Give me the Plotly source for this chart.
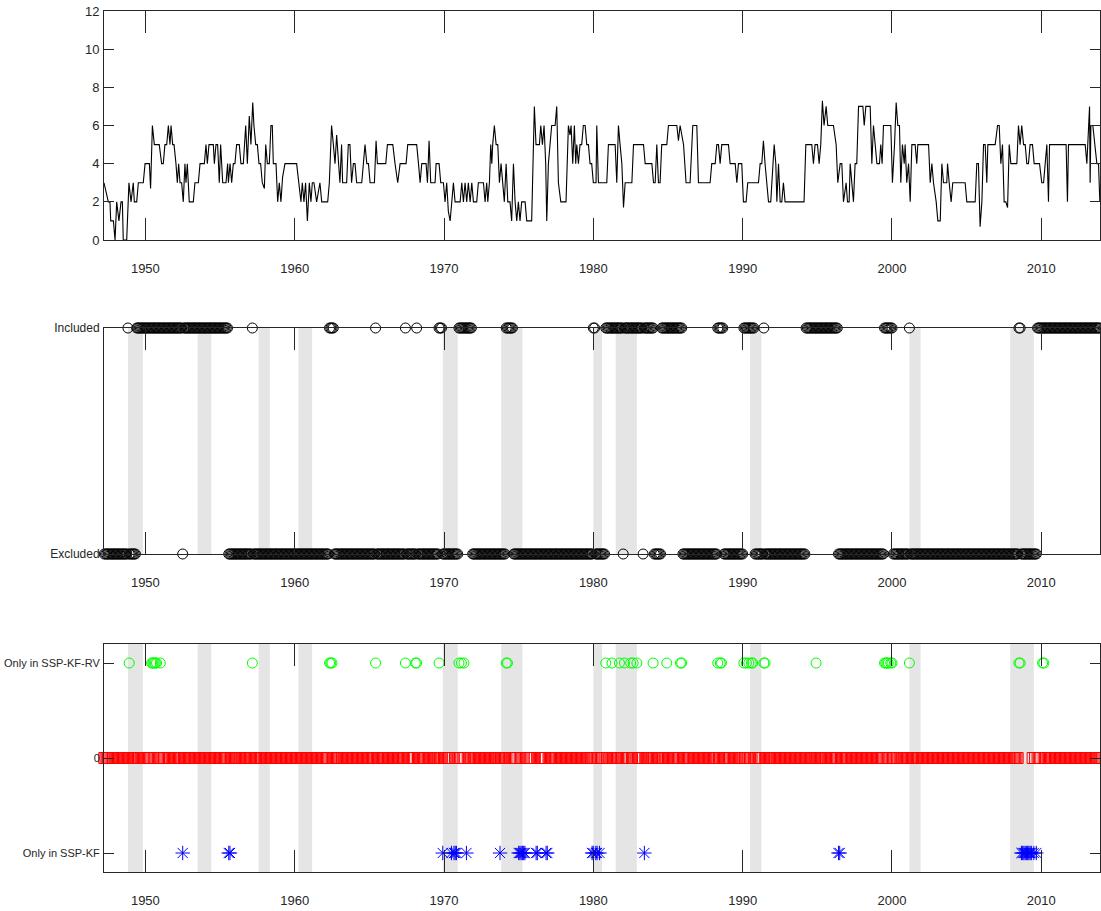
import numpy as np
import plotly.graph_objects as go

# ---------------- data ----------------
START_YEAR = 1947.25          # first month (Apr 1947)
N_MONTHS = 801                # monthly through Dec 2013

# NBER recessions (start, end) in decimal years
REC_START = [1948.833, 1953.5, 1957.583, 1960.25, 1969.917, 1973.833, 1980.0, 1981.5, 1990.5, 2001.167, 2007.917]
REC_END = [1949.833, 1954.417, 1958.333, 1961.167, 1970.917, 1975.25, 1980.583, 1982.917, 1991.25, 2001.917, 2009.5]

# top panel: number of selected variables (vertices of the monthly line)
TOP_YEARS = [
    1947.23, 1947.52, 1947.63, 1947.68, 1947.86, 1947.97, 1948.08, 1948.23, 1948.37, 1948.46, 1948.52, 1948.75,
    1948.90, 1949.04, 1949.19, 1949.26, 1949.42, 1949.53, 1949.86, 1949.98, 1950.27, 1950.35, 1950.47, 1950.60,
    1950.93, 1951.09, 1951.20, 1951.31, 1951.43, 1951.54, 1951.65, 1951.72, 1951.83, 1951.92, 1952.05, 1952.14,
    1952.23, 1952.32, 1952.43, 1952.54, 1952.65, 1952.72, 1952.81, 1952.94, 1953.21, 1953.32, 1953.55, 1953.66,
    1953.95, 1954.06, 1954.15, 1954.26, 1954.55, 1954.62, 1954.73, 1954.84, 1954.95, 1955.04, 1955.18, 1955.40,
    1955.51, 1955.56, 1955.67, 1955.78, 1955.89, 1956.00, 1956.11, 1956.29, 1956.40, 1956.56, 1956.72, 1956.83,
    1956.96, 1957.07, 1957.19, 1957.27, 1957.39, 1957.50, 1957.61, 1957.72, 1957.83, 1957.97, 1958.06, 1958.17,
    1958.30, 1958.41, 1958.50, 1958.57, 1958.75, 1958.86, 1958.97, 1959.08, 1959.19, 1959.35, 1960.13, 1960.29,
    1960.42, 1960.51, 1960.62, 1960.73, 1960.85, 1960.98, 1961.09, 1961.18, 1961.29, 1961.47, 1961.69, 1961.81,
    1962.21, 1962.32, 1962.47, 1962.59, 1962.70, 1962.81, 1962.92, 1963.03, 1963.14, 1963.21, 1963.48, 1963.59,
    1963.70, 1963.81, 1963.93, 1964.04, 1964.15, 1964.37,
    1964.49, 1964.71, 1964.83, 1964.94, 1965.05, 1965.34, 1965.45, 1965.54, 1966.10, 1966.21, 1966.57, 1966.72,
    1966.90, 1967.06, 1967.46, 1967.57, 1968.17, 1968.29, 1968.40, 1968.51, 1968.80, 1968.89, 1969.00, 1969.11,
    1969.40, 1969.47, 1969.67, 1969.78, 1969.96, 1970.07, 1970.18, 1970.29, 1970.41, 1970.52, 1970.63, 1970.74,
    1971.08, 1971.19, 1971.30, 1971.41, 1971.52, 1971.63, 1971.75, 1971.86, 1971.97, 1972.19, 1972.30, 1972.64,
    1972.75, 1972.86, 1972.93, 1973.04, 1973.13, 1973.20, 1973.26, 1973.37, 1973.49, 1973.60, 1973.71, 1973.82,
    1973.93, 1974.04, 1974.16, 1974.27, 1974.42, 1974.53, 1974.65, 1974.76, 1974.87, 1974.98, 1975.09, 1975.20,
    1975.43, 1975.54, 1975.87, 1975.94, 1976.05, 1976.16, 1976.39, 1976.48, 1976.59, 1976.70, 1976.81, 1976.88,
    1976.99, 1977.10, 1977.21, 1977.44, 1977.55, 1977.66, 1977.82, 1978.17, 1978.26, 1978.33, 1978.44, 1978.51,
    1978.62, 1978.73, 1978.82, 1978.89, 1979.00, 1979.11, 1979.22, 1979.33, 1979.45, 1979.56, 1979.67, 1979.78,
    1979.89, 1980.00, 1980.18, 1980.23, 1980.34, 1980.90, 1981.01, 1981.12,
    1981.46, 1981.57, 1981.68, 1981.79, 1981.91, 1982.02, 1982.13, 1982.58, 1982.69, 1983.36, 1983.47, 1983.92,
    1984.03, 1984.14, 1984.25, 1984.36, 1984.47, 1984.58, 1984.92, 1985.03, 1985.59, 1985.70, 1985.81, 1986.04,
    1986.21, 1986.48, 1986.66, 1986.93, 1987.04, 1987.82, 1987.93, 1988.16, 1988.27, 1988.38, 1988.49, 1988.60,
    1989.05, 1989.16, 1989.50, 1989.61, 1989.72, 1989.94, 1990.05, 1990.23, 1990.34, 1991.06, 1991.17, 1991.28,
    1991.39, 1991.50, 1991.62, 1991.73, 1991.88, 1992.00, 1992.11, 1992.22, 1992.29, 1992.40, 1992.51, 1992.62,
    1992.73, 1992.84, 1994.11, 1994.23, 1994.63, 1994.74, 1994.85, 1995.01, 1995.12, 1995.23, 1995.34, 1995.45,
    1995.59, 1995.70, 1996.08, 1996.26, 1996.37, 1996.53, 1996.64, 1996.75, 1996.93, 1997.02, 1997.13, 1997.20,
    1997.31, 1997.42, 1997.53, 1997.64,
    1997.76, 1998.05, 1998.14, 1998.25, 1998.54, 1998.65, 1998.76, 1998.87, 1998.99, 1999.16, 1999.25, 1999.34,
    1999.43, 1999.92, 2000.03, 2000.17, 2000.28, 2000.39, 2000.50, 2000.59, 2000.70, 2000.82, 2000.88, 2000.99,
    2001.11, 2001.22, 2001.28, 2001.33, 2001.55, 2001.66, 2001.73, 2002.45, 2002.56, 2002.67, 2002.78, 2002.96,
    2003.07, 2003.23, 2003.34, 2003.45, 2003.67, 2003.72, 2003.83, 2003.96, 2004.07, 2004.90, 2005.01, 2005.57,
    2005.68, 2005.79, 2005.90, 2006.02, 2006.13, 2006.24, 2006.35, 2006.42, 2006.91, 2007.07, 2007.18, 2007.29,
    2007.40, 2007.51, 2007.62, 2007.74, 2007.85, 2007.96, 2008.36, 2008.47, 2008.58, 2008.69, 2008.81, 2008.92,
    2009.03, 2009.14, 2009.25, 2009.41, 2009.52, 2009.88, 2010.03, 2010.15, 2010.26, 2010.37, 2010.48, 2010.55,
    2011.66, 2011.75, 2011.82, 2012.94, 2013.05, 2013.16, 2013.23, 2013.27, 2013.32, 2013.45, 2013.61, 2013.72,
    2013.83, 2013.92,
]
TOP_VALUES = [
    3, 2, 2, 1, 1, 0, 2, 1, 2, 2, 0, 0,
    3, 2, 3, 2, 2, 3, 3, 4, 4, 2.7, 6, 5,
    5, 4, 4, 5, 5, 6, 5, 6, 5, 5, 4, 3,
    4, 3, 3, 2, 4, 3, 4, 2, 2, 3, 3, 4,
    4, 5, 4, 5, 5, 4, 5, 5, 3, 5, 3, 3,
    4, 3, 4, 3, 4, 4, 5, 5, 4, 4, 6, 4,
    6.5, 5, 7.2, 6, 5, 5, 4, 4, 3, 2.7, 5, 4,
    4, 6, 6, 4, 4, 2, 3, 2, 3.3, 4, 4, 3,
    2, 3, 2, 3, 1, 3, 2, 3, 3, 2, 3, 2,
    2, 3, 6, 5, 4, 5.5, 4, 3, 5, 3, 3, 5,
    5, 3, 4, 4, 3, 3,
    3, 5, 4, 4, 3, 3, 5.2, 4, 4, 5, 5, 4,
    3, 4, 4, 5, 5, 4, 3, 4, 4, 3, 5.2, 3,
    3, 4, 4, 3, 3, 2, 3, 1.5, 1, 2, 3, 2,
    2, 3, 2, 3, 2, 3, 2, 3, 2, 2, 3, 3,
    2, 3, 2, 3, 5, 4, 5, 6, 5, 5, 3, 4,
    3, 2, 4, 2, 2, 1, 4, 2, 1, 2, 1, 2,
    2, 1, 1, 3, 7, 5, 5, 6, 5, 6, 4, 1,
    4, 5, 6, 6, 7, 3, 2, 2, 4, 6, 5.5, 6,
    4, 6, 4, 5, 4, 5, 5, 6, 6, 5, 5, 4,
    4, 3, 3, 6, 3, 3, 5, 5,
    5, 3, 6, 5, 4, 1.7, 3, 3, 5, 5, 4, 4,
    3, 3, 5, 3, 3, 5, 5, 6, 6, 5.2, 6, 5,
    3, 3, 6, 6, 3, 3, 4, 4, 5, 5, 4, 5,
    5, 4, 4, 3, 4, 4, 2, 2, 3, 3, 4, 4,
    5.2, 4, 3, 2, 2, 4, 5, 4, 2, 4, 2, 2,
    3, 2, 2, 5, 5, 4, 5, 5, 4, 5, 7.3, 6,
    7, 6, 6, 5, 3, 4, 4, 2, 3, 2, 2, 4,
    3, 2, 4, 4,
    7, 7, 6, 7, 7, 4, 6, 5, 4, 4, 5, 4,
    6, 6, 3, 5, 7.2, 6, 6, 3, 5, 4, 5, 3,
    4, 2, 4, 5, 5, 4, 5, 5, 3, 4, 3, 2,
    1, 1, 4, 3, 3, 4, 3, 2, 3, 3, 2, 2,
    4, 4, 0.7, 2, 5, 5, 3, 5, 5, 6, 6, 4,
    5, 2, 2, 1.7, 5, 4, 4, 6, 5, 6, 5, 5,
    4, 4, 5, 5, 4, 4, 3, 3, 4, 5, 2, 5,
    5, 2, 5, 5, 4, 6, 7, 3, 6, 6, 5, 4,
    4, 2,
]

# middle panel: months included by SSP-KF-RV (inclusive intervals)
INC_START = [1948.833, 1949.417, 1952.583, 1957.167, 1962.333, 1965.417, 1967.417, 1968.167, 1969.667, 1971.0,
             1974.167, 1980.0, 1980.833, 1982.083, 1983.417, 1984.583, 1988.333, 1990.083, 1991.417, 1994.25,
             1999.5, 2001.167, 2008.5, 2009.75]
INC_END = [1948.833, 1952.417, 1955.5, 1957.167, 1962.583, 1965.417, 1967.417, 1968.167, 1969.833, 1971.833,
           1974.583, 1980.083, 1981.917, 1983.25, 1984.0, 1985.917, 1988.667, 1990.75, 1991.417, 1996.333,
           2000.0, 2001.167, 2008.583, 2013.917]

# bottom panel: months only selected by one of the two methods
ONLY_RV = [1948.917, 1950.417, 1950.5, 1950.583, 1950.667, 1950.75, 1951.0, 1957.167, 1962.333, 1962.417, 1962.5,
           1965.417, 1967.417, 1968.083, 1968.167, 1969.667, 1971.0, 1971.167, 1971.333, 1974.167, 1974.25,
           1980.833, 1981.25, 1981.75, 1982.083, 1982.5, 1982.667, 1982.917, 1984.0, 1984.917, 1985.833, 1985.917,
           1988.333, 1988.5, 1988.583, 1990.083, 1990.25, 1990.417, 1990.583, 1990.667, 1991.417, 1991.5,
           1994.917, 1999.5, 1999.583, 1999.667, 1999.75, 1999.917, 2000.0, 2001.167, 2008.5, 2008.583,
           2010.083, 2010.167]
ONLY_KF = [1952.5, 1955.583, 1955.667, 1969.917, 1970.5, 1970.667, 1970.75, 1970.833, 1971.5, 1973.75,
           1975.0, 1975.083, 1975.167, 1975.25, 1975.333, 1975.417, 1976.167, 1976.25, 1976.833, 1976.917,
           1979.917, 1980.0, 1980.167, 1980.25, 1980.417, 1983.417, 1996.417, 1996.5,
           2008.667, 2008.75, 2008.833, 2008.917, 2009.0, 2009.083, 2009.167, 2009.25, 2009.333, 2009.5, 2009.667]

X_TICKS = [1950, 1960, 1970, 1980, 1990, 2000, 2010]
TOP_TICKS = [0, 2, 4, 6, 8, 10, 12]
MID_TICKTEXT = ["Excluded", "Included"]
BOT_TICKTEXT = ["Only in SSP-KF", "0", "Only in SSP-KF-RV"]

# ---------------- derived ----------------
months = START_YEAR + np.arange(N_MONTHS) / 12.0


def midx(y):
    return int(round((y - START_YEAR) * 12))


included = np.zeros(N_MONTHS, dtype=int)
for s, e in zip(INC_START, INC_END):
    included[midx(s):midx(e) + 1] = 1

rv_idx = sorted(set(midx(y) for y in ONLY_RV))
kf_idx = sorted(set(midx(y) for y in ONLY_KF))
both_idx = [i for i in range(N_MONTHS) if i not in set(rv_idx) | set(kf_idx)]

# ---------------- figure ----------------
AX = "#262626"
FAMILY = "Liberation Sans, Arial, sans-serif"
XFONT = dict(family=FAMILY, size=13, color=AX)
NFONT = dict(family=FAMILY, size=13, color=AX)
MFONT = dict(family=FAMILY, size=12, color=AX)
TFONT = dict(family=FAMILY, size=11, color=AX)
XR = [1947.23, 2013.93]

fig = go.Figure()
fig.add_trace(go.Scatter(x=TOP_YEARS, y=TOP_VALUES, mode="lines", line=dict(color="black", width=1.1),
                         xaxis="x", yaxis="y", showlegend=False, hoverinfo="skip"))
fig.add_trace(go.Scatter(x=months, y=included, mode="markers", cliponaxis=False,
                         marker=dict(symbol="circle-open", size=10, color="black", line=dict(width=1)),
                         xaxis="x2", yaxis="y2", showlegend=False, hoverinfo="skip"))
fig.add_trace(go.Scatter(x=months[both_idx], y=np.zeros(len(both_idx)), mode="markers", cliponaxis=False,
                         marker=dict(symbol="square-open", size=11, color="#ff0000", line=dict(width=1)),
                         xaxis="x3", yaxis="y3", showlegend=False, hoverinfo="skip"))
fig.add_trace(go.Scatter(x=months[rv_idx], y=np.ones(len(rv_idx)), mode="markers", cliponaxis=False,
                         marker=dict(symbol="circle-open", size=10, color="#00ff00", line=dict(width=1)),
                         xaxis="x3", yaxis="y3", showlegend=False, hoverinfo="skip"))
fig.add_trace(go.Scatter(x=months[kf_idx], y=-np.ones(len(kf_idx)), mode="markers", cliponaxis=False,
                         marker=dict(symbol="asterisk-open", size=12, color="#0000ff", line=dict(width=1)),
                         xaxis="x3", yaxis="y3", showlegend=False, hoverinfo="skip"))

shapes = []
for s, e in zip(REC_START, REC_END):
    shapes.append(dict(type="rect", xref="x2", yref="y2", x0=s, x1=e, y0=0, y1=1,
                       fillcolor="#e5e5e5", line=dict(width=0), layer="below"))
    shapes.append(dict(type="rect", xref="x3", yref="y3 domain", x0=s, x1=e, y0=0, y1=1,
                       fillcolor="#e5e5e5", line=dict(width=0), layer="below"))


def xaxis(anchor):
    return dict(range=XR, tickvals=X_TICKS, ticks="inside", ticklen=22, tickcolor=AX, showline=True,
                mirror="ticks", linecolor=AX, linewidth=1, showgrid=False, zeroline=False,
                tickfont=XFONT, anchor=anchor, ticklabelstandoff=16, automargin=False)


def yaxis(domain, anchor, font, **kw):
    d = dict(domain=domain, anchor=anchor, ticks="inside", ticklen=10, tickcolor=AX, showline=True,
             mirror="ticks", linecolor=AX, linewidth=1, showgrid=False, zeroline=False, tickfont=font,
             automargin=False, ticklabelstandoff=1)
    d.update(kw)
    return d


W, H = 1101, 911
ML, MR, MT, MB = 104, 1, 11, 39
PH = H - MT - MB


def dom(top_px, bot_px):
    return [(H - MB - bot_px) / PH, (H - MB - top_px) / PH]


fig.update_layout(
    width=W, height=H, margin=dict(l=ML, r=MR, t=MT, b=MB, autoexpand=False),
    paper_bgcolor="white", plot_bgcolor="white", showlegend=False,
    xaxis=xaxis("y"), xaxis2=xaxis("y2"), xaxis3=xaxis("y3"),
    yaxis=yaxis(dom(11, 240), "x", NFONT, range=[0, 12], tickvals=TOP_TICKS),
    yaxis2=yaxis(dom(328, 554), "x2", MFONT, range=[0, 1], tickvals=[0, 1], ticktext=MID_TICKTEXT),
    yaxis3=yaxis(dom(644, 872), "x3", TFONT, range=[-1.2, 1.2], tickvals=[-1, 0, 1], ticktext=BOT_TICKTEXT),
    shapes=shapes,
)

fig.write_html("out.html", config={"displayModeBar": False},
               post_script="document.body.style.margin='0';document.body.style.overflow='hidden';")
